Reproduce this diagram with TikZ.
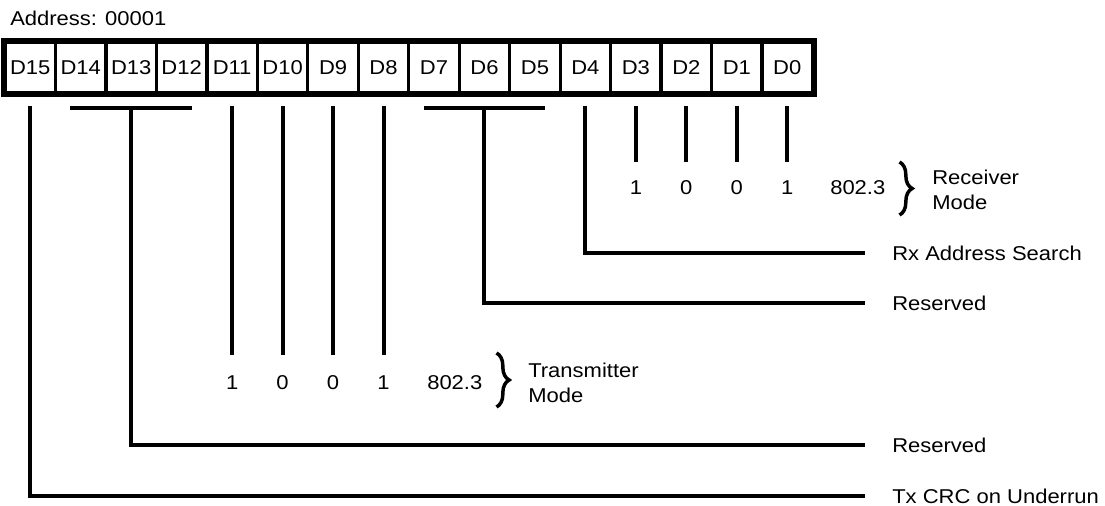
\documentclass[tikz,border=0pt]{standalone}
\usepackage{fontspec}
\setmainfont{Liberation Sans}[FakeStretch=1.1]
\usetikzlibrary{calc,decorations.pathreplacing}
\begin{document}
\begin{tikzpicture}[x=0.75pt,y=-0.75pt,
  every node/.style={font=\fontsize{15}{18.75}\selectfont, inner sep=0pt},
  cell/.style={draw, line width=2.5pt, minimum width=37.85pt, minimum height=37.5pt},
  conn/.style={line width=3pt},
  brc/.style={line width=2.6pt, decorate, decoration={brace, amplitude=9.5pt}},
  lbl/.style={anchor=west},
]
\useasboundingbox (0,0) rectangle (1105,506);
\fill[white] (0,0) rectangle (1105,506);

\node[anchor=base west] (addr) at (10,26) {Address: 00001};
\foreach \k in {0,...,15} {
  \pgfmathtruncatemacro\i{15-\k}
  \node[cell] (d\i) at ({30.24+50.47*\k},67.5) {D\i};
}
\draw[line width=3.75pt] (d15.north west) rectangle (d0.south east);

\coordinate (top) at (0,106.5);
\coordinate (brk) at (0,108.5);
\coordinate (rxend) at (0,162);
\coordinate (txend) at (0,355);
\coordinate (rxdig) at (0,187.5);
\coordinate (txdig) at (0,382.5);
\coordinate (lineend) at (865,0);

\node[lbl] (rxas) at (892,253) {Rx Address Search};
\node[lbl] (res1) at (892,303) {Reserved};
\node[lbl] (res2) at (892,445) {Reserved};
\node[lbl] (txcrc) at (892,496) {Tx CRC on Underrun};

\draw[conn] (d4 |- top) |- (lineend |- rxas);
\draw[conn] ($(d7|-brk)+(-10.5,0)$) -- ($(d5|-brk)+(10.5,0)$);
\draw[conn] (d6 |- brk) |- (lineend |- res1);
\draw[conn] ($(d14|-brk)+(-10.5,0)$) -- ($(d12|-brk)+(10.5,0)$);
\draw[conn] (d13 |- brk) |- (lineend |- res2);
\draw[conn] (d15 |- top) |- (lineend |- txcrc);
\foreach \i in {11,10,9,8} \draw[conn] (d\i |- top) -- (d\i |- txend);
\foreach \i in {3,2,1,0} \draw[conn] (d\i |- top) -- (d\i |- rxend);

\node (r3) at (d3 |- rxdig) {1};
\node (r2) at (d2 |- rxdig) {0};
\node (r1) at (d1 |- rxdig) {0};
\node (r0) at (d0 |- rxdig) {1};
\node[lbl] (rx8023) at (830,187.5) {802.3};
\draw[brc] (899.5,162) -- (899.5,215);
\node[lbl, align=left] (rxmode) at (932,190) {Receiver\\Mode};

\node (t11) at (d11 |- txdig) {1};
\node (t10) at (d10 |- txdig) {0};
\node (t9) at (d9 |- txdig) {0};
\node (t8) at (d8 |- txdig) {1};
\node[lbl] (tx8023) at (427,382.5) {802.3};
\draw[brc] (496.5,353) -- (496.5,407);
\node[lbl, align=left] (txmode) at (528,382.5) {Transmitter\\Mode};
\end{tikzpicture}
\end{document}
